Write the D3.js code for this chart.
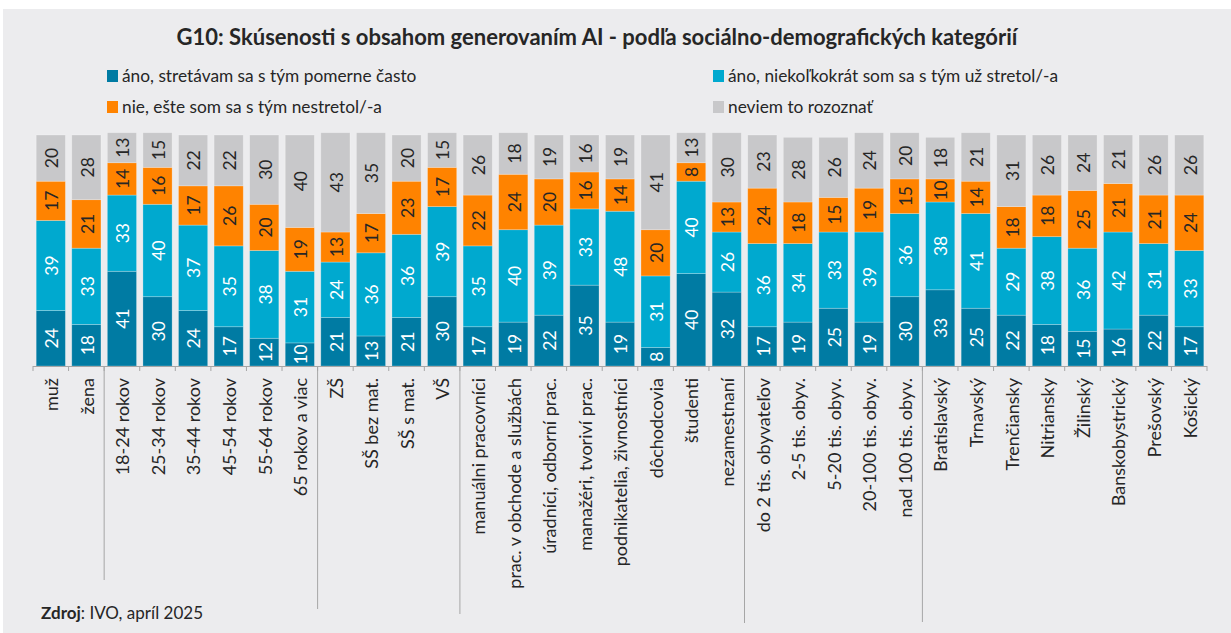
<!DOCTYPE html>
<html>
<head>
<meta charset="utf-8">
<script src="https://cdn.jsdelivr.net/npm/d3@7/dist/d3.min.js"></script>
<style>
  html, body { margin: 0; padding: 0; background: #ffffff; }
  svg { display: block; }
  text { font-family: Lato, "Open Sans", sans-serif; }
</style>
</head>
<body>
<svg id="chart" width="1231" height="633"></svg>
<script>
// ---------- DATA ----------
const title = "G10: Skúsenosti s obsahom generovaním AI - podľa sociálno-demografických kategórií";
const categories = [
  "muž", "žena",
  "18-24 rokov", "25-34 rokov", "35-44 rokov", "45-54 rokov", "55-64 rokov", "65 rokov a viac",
  "ZŠ", "SŠ bez mat.", "SŠ s mat.", "VŠ",
  "manuálni pracovníci", "prac. v obchode a službách", "úradníci, odborní prac.", "manažéri, tvoriví prac.",
  "podnikatelia, živnostníci", "dôchodcovia", "študenti", "nezamestnaní",
  "do 2 tis. obyvateľov", "2-5 tis. obyv.", "5-20 tis. obyv.", "20-100 tis. obyv.", "nad 100 tis. obyv.",
  "Bratislavský", "Trnavský", "Trenčiansky", "Nitriansky", "Žilinský", "Banskobystrický", "Prešovský", "Košický"
];
const groupSizes = [2, 6, 4, 8, 5, 8];
const seriesNames = [
  "áno, stretávam sa s tým pomerne často",
  "áno, niekoľkokrát som sa s tým už stretol/-a",
  "nie, ešte som sa s tým nestretol/-a",
  "neviem to rozoznať"
];
const often    = [24,18, 41,30,24,17,12,10, 21,13,21,30, 17,19,22,35,19, 8,40,32, 17,19,25,19,30, 33,25,22,18,15,16,22,17];
const several  = [39,33, 33,40,37,35,38,31, 24,36,36,39, 35,40,39,33,48,31,40,26, 36,34,33,39,36, 38,41,29,38,36,42,31,33];
const never    = [17,21, 14,16,17,26,20,19, 13,17,23,17, 22,24,20,16,14,20, 8,13, 24,18,15,19,15, 10,14,18,18,25,21,21,24];
const dontKnow = [20,28, 13,15,22,22,30,40, 43,35,20,15, 26,18,19,16,19,41,13,30, 23,28,26,24,20, 18,21,31,26,24,21,26,26];
const source = ["Zdroj", ": IVO, apríl 2025"];

// ---------- STYLE / LAYOUT ----------
const colors = ["#007ba3", "#00a9cf", "#ff8300", "#c8c8ca"];
const labelColors = ["#ffffff", "#ffffff", "#262626", "#262626"];
const W = 1231, H = 633;
const plot = { left: 33, right: 1207, top: 135, bottom: 366 };
const sepEnds = [580, 609, 614, 623, 622];

const svg = d3.select("#chart");
svg.append("rect").attr("x", 3).attr("y", 9).attr("width", W - 3).attr("height", H - 9).attr("fill", "#ececee");

// title
svg.append("text")
  .attr("x", 597).attr("y", 45)
  .attr("text-anchor", "middle")
  .attr("font-size", 22).attr("font-weight", 700).attr("fill", "#262626")
  .text(title);

// legend
const legendPos = [[107, 76], [713, 76], [107, 107], [713, 107]];
const lg = svg.append("g");
seriesNames.forEach((name, i) => {
  const [lx, ly] = legendPos[i];
  lg.append("rect").attr("x", lx).attr("y", ly - 6).attr("width", 11).attr("height", 12).attr("fill", colors[i]);
  lg.append("text").attr("x", lx + 15).attr("y", ly).attr("dy", "0.35em")
    .attr("font-size", 17.3).attr("fill", "#262626").text(name);
});

// scales
const x = d3.scaleBand().domain(categories).range([plot.left, plot.right])
  .paddingInner(0.18).paddingOuter(0.09);
const y = d3.scaleLinear().domain([0, 100]).range([plot.bottom, plot.top]);

const rows = categories.map((c, i) => ({ cat: c, s0: often[i], s1: several[i], s2: never[i], s3: dontKnow[i] }));
const stack = d3.stack().keys(["s0", "s1", "s2", "s3"]);
const layers = stack(rows);

const gBars = svg.append("g");
layers.forEach((layer, li) => {
  const g = gBars.append("g");
  g.selectAll("rect").data(layer).join("rect")
    .attr("x", d => x(d.data.cat))
    .attr("width", x.bandwidth())
    .attr("y", d => y(d[1]))
    .attr("height", d => y(d[0]) - y(d[1]))
    .attr("fill", colors[li])
    .attr("stroke", "#ffffff").attr("stroke-opacity", 0.3).attr("stroke-width", 0.8);
  g.selectAll("text").data(layer).join("text")
    .attr("transform", d => `translate(${x(d.data.cat) + x.bandwidth() / 2 + 1},${(y(d[0]) + y(d[1])) / 2}) rotate(-90)`)
    .attr("text-anchor", "middle").attr("dy", "0.36em")
    .attr("font-size", 17.5).attr("fill", labelColors[li])
    .text(d => d[1] - d[0]);
});

// axis line & boundary ticks
const step = x.step();
const boundaries = d3.range(categories.length + 1).map(i => plot.left + i * step);
const axis = svg.append("g").attr("stroke", "#a6a6a6").attr("stroke-width", 1);
axis.append("line").attr("x1", plot.left).attr("x2", plot.right).attr("y1", plot.bottom + 0.5).attr("y2", plot.bottom + 0.5);
axis.selectAll("line.tick").data(boundaries).join("line").attr("class", "tick")
  .attr("x1", d => d).attr("x2", d => d).attr("y1", plot.bottom).attr("y2", plot.bottom + 5);

// group separators
let cum = 0;
const sepIdx = groupSizes.slice(0, -1).map(n => (cum += n));
axis.selectAll("line.sep").data(sepIdx).join("line").attr("class", "sep")
  .attr("x1", d => boundaries[d]).attr("x2", d => boundaries[d])
  .attr("y1", plot.bottom).attr("y2", (d, i) => sepEnds[i]);

// category labels
svg.append("g").selectAll("text").data(categories).join("text")
  .attr("transform", d => `translate(${x(d) + x.bandwidth() / 2 + 1},378) rotate(-90)`)
  .attr("text-anchor", "end").attr("dy", "0.35em")
  .attr("font-size", 18).attr("fill", "#262626")
  .text(d => d);

// source
const st = svg.append("text").attr("x", 41).attr("y", 619).attr("font-size", 17).attr("fill", "#262626");
st.append("tspan").attr("font-weight", 700).text(source[0]);
st.append("tspan").text(source[1]);
</script>
</body>
</html>
